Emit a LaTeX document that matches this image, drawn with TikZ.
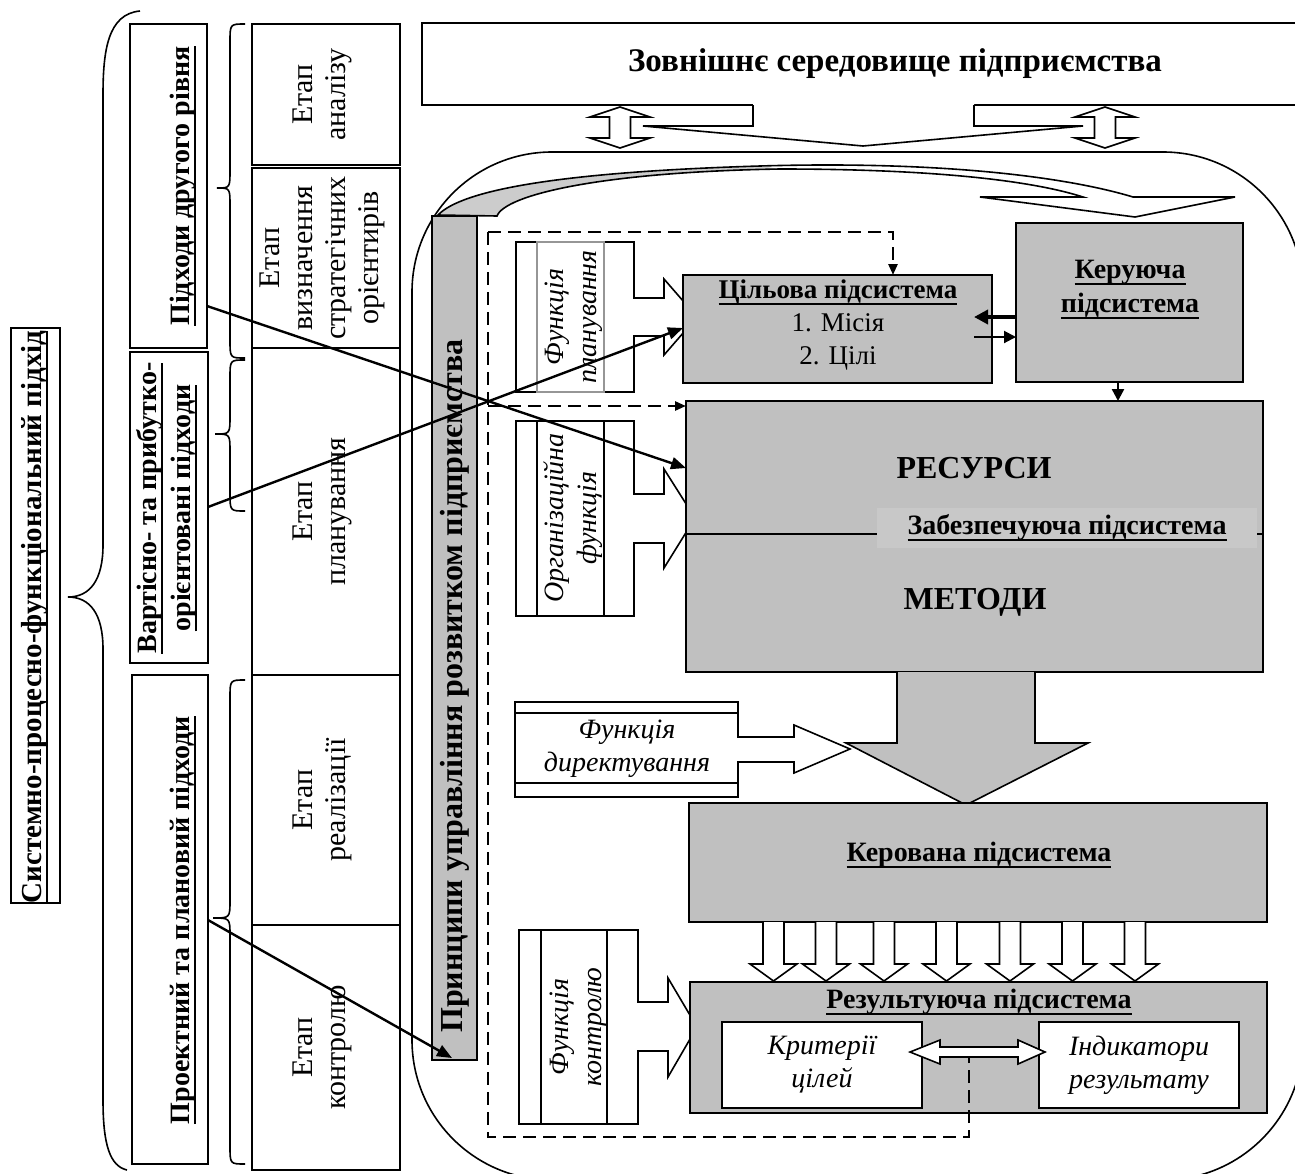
\documentclass[tikz,border=0pt]{standalone}
\usepackage{fontspec}
\setmainfont{Liberation Serif}
\usetikzlibrary{arrows.meta,calc}
\newsavebox{\ulbox}
% underline that sits a little below the baseline and crosses descenders
\newcommand{\uln}[1]{\sbox{\ulbox}{#1}\rlap{\rule[-3.2pt]{\wd\ulbox}{1.1pt}}\usebox{\ulbox}}
\newcommand{\setfs}[2]{\fontsize{#1}{#2}\selectfont}
\definecolor{boxgray}{RGB}{192,192,192}
\definecolor{labelgray}{RGB}{200,200,200}
\definecolor{bandgray}{RGB}{204,204,204}
\definecolor{edgegray}{RGB}{150,150,150}
% curly brace opening to the right: x of ends, x of arm, x of tip, y top, y tip, y bottom, bend
\newcommand{\sbrace}[7]{\draw[brc] (#1,#4) .. controls (#2,#4) .. (#2,#4+#7) -- (#2,#5-#7) .. controls (#2,#5) .. (#3,#5) .. controls (#2,#5) .. (#2,#5+#7) -- (#2,#6-#7) .. controls (#2,#6) .. (#1,#6);}
% white two-headed vertical block arrow: centre x, top y, bottom y
\newcommand{\vdarrow}[3]{\filldraw[blockarrow] (#1,#2) -- (#1+30,#2+10) -- (#1+10.5,#2+10) -- (#1+10.5,#3-10) -- (#1+30,#3-10) -- (#1,#3) -- (#1-30,#3-10) -- (#1-10.5,#3-10) -- (#1-10.5,#2+10) -- (#1-30,#2+10) -- cycle;}
% outline of the curved arrow over the enterprise
\newcommand{\bandpath}{(438,215) .. controls (462,190) and (560,172) .. (760,166) .. controls (930,161) and (1060,175) .. (1133,197) -- (1235,197) -- (1135,217) -- (980,197) -- (1083,197) .. controls (1030,180) and (930,169) .. (780,169) .. controls (600,172) and (505,195) .. (497,216) -- cycle}
\tikzset{
  frame/.style={draw, line width=0.8pt, inner sep=0pt, outer sep=0pt},
  gbox/.style={frame, fill=boxgray},
  lbl/.style={inner sep=0pt, outer sep=0pt, align=center},
  vlbl/.style={lbl, rotate=90},
  brc/.style={line width=0.8pt},
  blockarrow/.style={draw, fill=white, line width=0.8pt},
  dline/.style={line width=1.3pt, dash pattern=on 6.5pt off 3.5pt},
  dtip/.style={-{Triangle[length=5.5pt,width=4.5pt]}},
  link/.style={line width=1.2pt, -{Triangle[length=7.5pt,width=6pt]}},
  stagefont/.style={font=\setfs{15pt}{16.5pt}},
  apprfont/.style={font=\bfseries\setfs{14pt}{17pt}},
  funcfont/.style={font=\itshape\setfs{14pt}{16.5pt}},
  subfont/.style={font=\bfseries\setfs{14pt}{17pt}},
  bigfont/.style={font=\bfseries\setfs{16pt}{19pt}},
}
\begin{document}
\begin{tikzpicture}[x=0.5pt, y=-0.5pt, line join=miter]
\useasboundingbox (0,0) rectangle (1295,1173);
\clip (0,0) rectangle (1295,1173);

% ---------- enterprise and its environment ----------
\node[frame, rounded corners=70pt, minimum width=445.5pt, minimum height=514pt] (ent) at (857.5,666) {};
\node[frame, minimum width=473pt, minimum height=41pt, font=\bfseries\setfs{16.5pt}{19pt}] (ext) at (895,64) {Зовнішнє середовище підприємства};
\fill[white] (753,103) -- (753,126) -- (643,126) -- (863,146) -- (1083,126) -- (974,126) -- (974,103) -- cycle;
\draw[line width=0.8pt] (753,105) -- (753,126) -- (643,126) -- (863,146) -- (1083,126) -- (974,126) -- (974,105);
\vdarrow{620}{107}{148}
\vdarrow{1105}{107}{148}

% ---------- approaches ----------
\draw[brc] (140,11) .. controls (108,14) and (103,50) .. (103,95) -- (103,545) .. controls (103,580) and (90,597) .. (68,597) .. controls (90,597) and (103,614) .. (103,649) -- (103,1100) .. controls (103,1145) and (110,1166) .. (127,1170);
\node[frame, minimum width=24.5pt, minimum height=287.5pt] (sys) at (35.5,615.5) {};
\node[vlbl, font=\bfseries\setfs{14.5pt}{17pt}] (systxt) at (35,617) {\uln{Системно-процесно-функціональний підхід}};

\node[frame, minimum width=38.5pt, minimum height=162pt] (appr2) at (168.5,186) {};
\node[vlbl, apprfont] (appr2txt) at (183,186) {\uln{Підходи другого рівня}};
\node[frame, minimum width=39pt, minimum height=155.5pt] (appr3) at (169,507.5) {};
\node[vlbl, apprfont] (appr3txt) at (167,508) {\uln{Вартісно- та прибутко-}\\\uln{орієнтовані підходи}};
\node[frame, minimum width=38pt, minimum height=244.5pt] (appr1) at (170,919.5) {};
\node[vlbl, apprfont] (appr1txt) at (183,920) {\uln{Проектний та плановий підходи}};

\sbrace{245}{230}{217}{24}{188}{358}{18}
\sbrace{245}{230}{215}{360}{434}{511}{18}
\sbrace{245}{230}{213}{680}{918}{1164}{18}

% ---------- stages ----------
\node[frame, minimum width=74pt, minimum height=70.5pt] (st1) at (326,94.5) {};
\node[frame, minimum width=74pt, minimum height=90pt] (st2) at (326,258) {};
\node[frame, minimum width=74pt, minimum height=163.5pt] (st3) at (326,511.5) {};
\node[frame, minimum width=74pt, minimum height=125pt] (st4) at (326,800) {};
\node[frame, minimum width=74pt, minimum height=122.5pt] (st5) at (326,1047.5) {};
\node[vlbl, stagefont] (st1t) at (322,94.5) {Етап\\аналізу};
\node[vlbl, stagefont] (st2t) at (322,258) {Етап\\визначення\\стратегічних\\орієнтирів};
\node[vlbl, stagefont] (st3t) at (322,511.5) {Етап\\планування};
\node[vlbl, stagefont] (st4t) at (322,800) {Етап\\реалізації};
\node[vlbl, stagefont] (st5t) at (322,1047.5) {Етап\\контролю};

% ---------- principles bar and curved arrow ----------
\node[gbox, minimum width=22.5pt, minimum height=422pt] (bar) at (454.5,638) {};
\node[vlbl, bigfont] (bartxt) at (455,686) {Принципи управління розвитком підприємства};
\fill[white] \bandpath;
\fill[bandgray] (438,215) .. controls (462,190) and (560,172) .. (760,166) -- (780,169) .. controls (600,172) and (505,195) .. (497,216) -- cycle;
\draw[line width=0.8pt] \bandpath;

% ---------- management functions ----------
\filldraw[blockarrow] (516,242) -- (634,242) -- (634,298) -- (664,298) -- (664,279) -- (697,317) -- (664,355) -- (664,336) -- (634,336) -- (634,392) -- (516,392) -- cycle;
\draw[edgegray, line width=0.8pt] (537,242) rectangle (604,392);
\node[vlbl, funcfont] (fplan) at (573.5,317) {Функція\\планування};

\filldraw[blockarrow] (516,421) -- (634,421) -- (634,494) -- (664,494) -- (664,469) -- (695,518) -- (664,568) -- (664,543) -- (634,543) -- (634,616) -- (516,616) -- cycle;
\draw[line width=0.8pt] (537,421) -- (537,616) (604,421) -- (604,616);
\node[vlbl, funcfont] (forg) at (573.5,518) {Організаційна\\функція};

\filldraw[blockarrow] (515,702) -- (738,702) -- (738,737) -- (794,737) -- (794,725) -- (850,749) -- (794,773) -- (794,762) -- (738,762) -- (738,797) -- (515,797) -- cycle;
\draw[line width=0.8pt] (515,713) -- (738,713) (515,783) -- (738,783);
\node[lbl, funcfont] (fdir) at (627,749) {Функція\\директування};

\filldraw[blockarrow] (519,930) -- (638,930) -- (638,1002) -- (668,1002) -- (668,978) -- (697,1027) -- (668,1077) -- (668,1051) -- (638,1051) -- (638,1124) -- (519,1124) -- cycle;
\draw[line width=0.8pt] (541,930) -- (541,1124) (607,930) -- (607,1124);
\node[vlbl, funcfont] (fctrl) at (578.5,1027) {Функція\\контролю};

% ---------- subsystems ----------
\node[gbox, minimum width=154.5pt, minimum height=54pt] (cil) at (837.5,329) {};
\node[lbl, font=\setfs{13.5pt}{16.25pt}] (ciltxt) at (838,325) {\textbf{\uln{Цільова підсистема}}\\1. Місія\\2. Цілі};
\node[gbox, minimum width=113.5pt, minimum height=79.5pt] (ker) at (1129.5,302.5) {};
\node[lbl, subfont] (kertxt) at (1130,290) {\uln{Керуюча}\\\uln{підсистема}};

\node[gbox, minimum width=288.5pt, minimum height=135.5pt] (res) at (974.5,536.5) {};
\draw[line width=0.8pt] ($(res.west)+(0,-2.5)$) -- ($(res.east)+(0,-2.5)$);
\node[lbl, fill=labelgray, minimum width=190pt, minimum height=20pt, subfont] (zab) at (1067,528) {\uln{Забезпечуюча підсистема}};
\node[lbl, bigfont] (resurs) at (974,468) {РЕСУРСИ};
\node[lbl, bigfont] (metody) at (975,602) {МЕТОДИ};

\filldraw[fill=boxgray, line width=0.8pt] (897,672) -- (897,743) -- (846,743) -- (966,805) -- (1088,743) -- (1035,743) -- (1035,672);

\node[gbox, minimum width=289pt, minimum height=59.5pt] (kerov) at (978,862.5) {};
\node[lbl, subfont] (kerovtxt) at (979,855) {\uln{Керована підсистема}};

\foreach \cx in {773.5,826,884,946.5,1010,1072.5,1135}
  \filldraw[blockarrow] (\cx-10.5,922) -- (\cx-10.5,964) -- (\cx-23.5,964) -- (\cx,981) -- (\cx+23.5,964) -- (\cx+10.5,964) -- (\cx+10.5,922);

\node[gbox, minimum width=288.5pt, minimum height=65.5pt] (resul) at (978.5,1047.5) {};
\node[lbl, subfont] (resultxt) at (979,1002) {\uln{Результуюча підсистема}};
\node[frame, fill=white, minimum width=100pt, minimum height=43pt, funcfont, align=center] (krit) at (822,1065) {Критерії\\цілей};
\node[frame, fill=white, minimum width=100pt, minimum height=43pt, funcfont, align=center] (indyk) at (1139,1065) {Індикатори\\результату};
\filldraw[blockarrow] (910,1052) -- (940,1040) -- (940,1047) -- (1018,1047) -- (1018,1040) -- (1045,1052) -- (1018,1064) -- (1018,1057) -- (940,1057) -- (940,1064) -- cycle;

% ---------- links between subsystems ----------
\draw[line width=2pt, -{Triangle[length=7pt,width=7pt]}] ($(ker.west)+(0,14.5)$) -- ($(cil.east)+(-18,-12)$);
\draw[line width=1pt, -{Triangle[length=6pt,width=6pt]}] ($(cil.east)+(-18,8)$) -- ($(ker.west)+(0,34.5)$);
\draw[line width=1.2pt, -{Triangle[length=6pt,width=6pt]}] ([xshift=-5.75pt]ker.south) -- ([xshift=-5.75pt]ker.south |- res.north);

% ---------- dashed feedback loop ----------
\coordinate (dtop) at (488,232);
\coordinate (dmid) at (488,406);
\coordinate (dbot) at (969,1058);
\draw[dline, dtip] (dtop) -| ($(cil.north)+(55.5,0)$);
\draw[dline] (dtop) -- (488,1137) -| (dbot);
\draw[dline, dtip] (dmid) -- ($(res.north west)+(0,5)$);

% ---------- approaches to subsystems ----------
\draw[link] ($(appr2.east)+(0,120)$) -- ($(res.west)+(0,-68.5)$);
\draw[link] ($(appr3.east)+(0,-0.5)$) -- ($(cil.west)+(0,-1)$);
\draw[link] ($(appr1.east)+(0,0.5)$) -- ($(bar.south)+(-2.5,-2)$);
\end{tikzpicture}
\end{document}
